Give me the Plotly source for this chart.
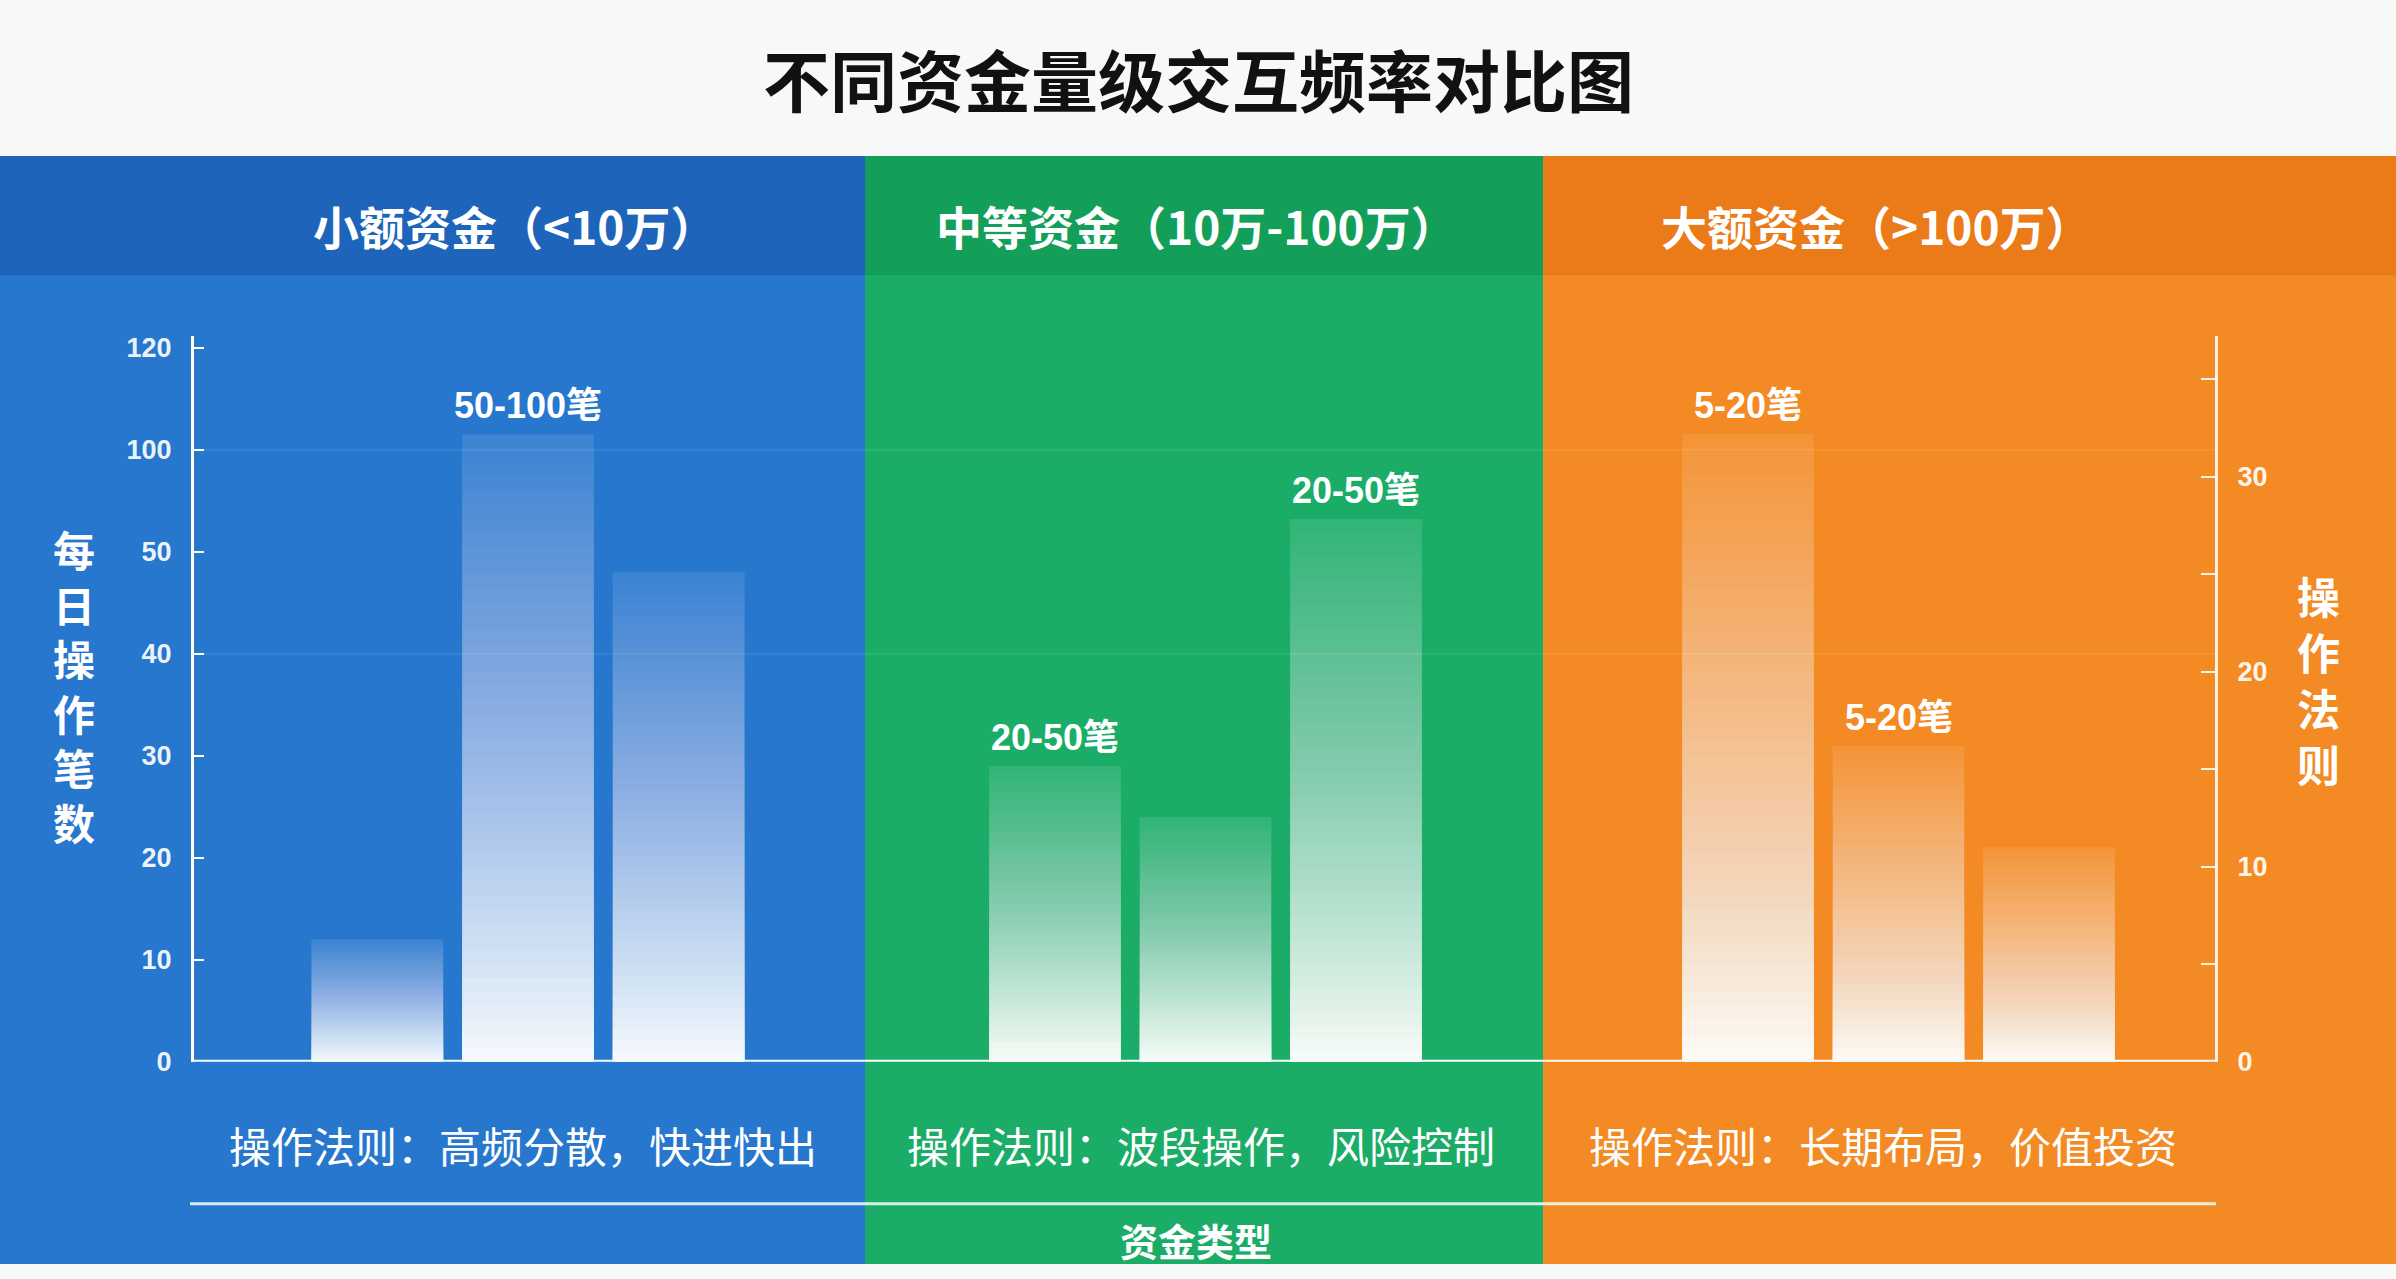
import numpy as np
import plotly.graph_objects as go

# ---------------- data ----------------
chart_title = "不同资金量级交互频率对比图"
group_titles = ["小额资金（<10万）", "中等资金（10万-100万）", "大额资金（>100万）"]
group_rules = ["操作法则：高频分散，快进快出", "操作法则：波段操作，风险控制", "操作法则：长期布局，价值投资"]
bar_names = ["指标一", "指标二", "指标三"]

small_vals = [12, 103, 48]      # 左轴：每日操作笔数
medium_vals = [29, 24, 66]      # 左轴：每日操作笔数
large_vals = [32.2, 16.2, 11]   # 右轴：操作法则

small_labels = ["", "50-100笔", ""]
medium_labels = ["20-50笔", "", "20-50笔"]
large_labels = ["5-20笔", "5-20笔", ""]

left_tick_vals = [0, 10, 20, 30, 40, 50, 100, 120]
left_tick_text = ["0", "10", "20", "30", "40", "50", "100", "120"]
right_tick_vals = [0, 10, 20, 30]

left_title = "每日操作笔数"
right_title = "操作法则"
x_title = "资金类型"

# ---------------- style ----------------
W, H = 2396, 1279
def px(x):
    return x / W
def py(y):
    return 1 - y / H

CJK = "Noto Sans CJK SC"
NUM = "Liberation Sans, Noto Sans CJK SC"

panel_x = [(0, 865), (865, 1543), (1543, 2396)]
panel_body = ["#2777ce", "#1bad67", "#f38a24"]
panel_head = ["#1d64ba", "#139f59", "#eb7a18"]

x_domains = [(302, 754), (979.75, 1431.25), (1672.75, 2124.25)]
axis_left_x, axis_right_x = 192, 2216
plot_bottom, plot_top = 1074, 338

# piecewise left axis (axis break scale): value -> tick index position
left_pos = list(range(len(left_tick_vals)))
def left_scale(v):
    return float(np.interp(v, left_tick_vals, left_pos))

left_range = [0, 7.12]
right_range = [0, 37.25]

fig = go.Figure()

groups = [
    (small_vals, small_labels, "x", "y", [left_scale(v) for v in small_vals]),
    (medium_vals, medium_labels, "x2", "y", [left_scale(v) for v in medium_vals]),
    (large_vals, large_labels, "x3", "y2", list(large_vals)),
]

# gradient bars built from overlaid layers
N = 45
w_top, w_bot = 0.10, 0.96
W_acc = [w_top + (w_bot - w_top) * k / (N - 1) for k in range(N)]
alphas = [W_acc[0]] + [1 - (1 - W_acc[k]) / (1 - W_acc[k - 1]) for k in range(1, N)]

annotations = []
for gi, (vals, labels, xa, ya, heights) in enumerate(groups):
    for k in range(N):
        frac = (N - k) / N
        fig.add_trace(go.Bar(
            x=bar_names, y=[h * frac for h in heights],
            xaxis=xa, yaxis=ya,
            marker=dict(color="rgba(255,255,255,%.4f)" % alphas[k], line=dict(width=0)),
            hoverinfo="skip", showlegend=False,
        ))
    for name, h, lab in zip(bar_names, heights, labels):
        if lab:
            annotations.append(dict(
                x=name, y=h, xref=xa, yref=ya, text=lab, showarrow=False,
                xanchor="center", yanchor="bottom", yshift=6,
                font=dict(family=NUM, size=36, color="white", weight="bold"),
            ))

shapes = []
for (x0, x1), body, head in zip(panel_x, panel_body, panel_head):
    shapes.append(dict(type="rect", xref="paper", yref="paper", x0=px(x0), x1=px(x1),
                       y0=0, y1=py(156), fillcolor=body, line=dict(width=0), layer="below"))
    shapes.append(dict(type="rect", xref="paper", yref="paper", x0=px(x0), x1=px(x1),
                       y0=py(277), y1=py(156), fillcolor=head, line=dict(width=0), layer="below"))

# faint grid lines
for gv in [100, 40]:
    shapes.append(dict(type="line", xref="paper", yref="y", x0=px(axis_left_x), x1=px(axis_right_x),
                       y0=left_scale(gv), y1=left_scale(gv),
                       line=dict(color="rgba(255,255,255,0.08)", width=2), layer="below"))

# baseline
shapes.append(dict(type="line", xref="paper", yref="y", x0=px(axis_left_x), x1=px(axis_right_x),
                   y0=0, y1=0, line=dict(color="#f4fbff", width=4)))
# lower separator line
shapes.append(dict(type="line", xref="paper", yref="paper", x0=px(190), x1=px(axis_right_x),
                   y0=py(1218), y1=py(1218), line=dict(color="rgba(235,250,245,0.9)", width=3)))

def ann(x, y, text, font, **kw):
    d = dict(x=px(x), y=py(y), xref="paper", yref="paper", text=text, showarrow=False,
             xanchor="center", yanchor="middle", font=font)
    d.update(kw)
    return d

# headers and rules
header_x = [514, 1196, 1876]
rule_x = [523, 1201, 1883]
for t, hx in zip(group_titles, header_x):
    annotations.append(ann(hx, 226, t, dict(family=CJK, size=46, color="white", weight="bold")))
for t, rx in zip(group_rules, rule_x):
    annotations.append(ann(rx, 1158, t, dict(family=CJK, size=42, color="white")))

# title
annotations.append(ann(1198, 77, chart_title, dict(family=CJK, size=67, color="#111111", weight="bold")))

# vertical axis titles (stacked characters)
annotations.append(ann(74, 692, "<br>".join(left_title),
                       dict(family=CJK, size=42, color="white", weight="bold")))
annotations.append(ann(2318, 686, "<br>".join(right_title),
                       dict(family=CJK, size=43, color="white", weight="bold")))

# x title (at the bottom edge)
annotations.append(ann(1196, 1254, x_title, dict(family=CJK, size=38, color="white", weight="bold")))

tickfont = dict(family=NUM, size=27, color="rgba(255,255,255,0.93)", weight="bold")

xa_common = dict(type="category", categoryorder="array", categoryarray=bar_names,
                 visible=False, fixedrange=True)

fig.update_layout(
    width=W, height=H, autosize=False,
    margin=dict(l=0, r=0, t=0, b=0, pad=0),
    paper_bgcolor="#f7f8f8", plot_bgcolor="rgba(0,0,0,0)",
    barmode="overlay", bargap=0.124,
    showlegend=False,
    xaxis=dict(domain=[px(x_domains[0][0]), px(x_domains[0][1])], anchor="y", **xa_common),
    xaxis2=dict(domain=[px(x_domains[1][0]), px(x_domains[1][1])], anchor="y", **xa_common),
    xaxis3=dict(domain=[px(x_domains[2][0]), px(x_domains[2][1])], anchor="y2", **xa_common),
    yaxis=dict(domain=[py(plot_bottom), py(plot_top)], anchor="free", position=px(axis_left_x),
               range=left_range, tickmode="array", tickvals=left_pos, ticktext=left_tick_text,
               ticks="inside", ticklen=10, tickwidth=2, tickcolor="white",
               showline=True, linecolor="white", linewidth=3,
               showgrid=False, zeroline=False, tickfont=tickfont, ticklabelstandoff=14,
               fixedrange=True),
    yaxis2=dict(overlaying="y", side="right", anchor="free", position=px(axis_right_x),
                range=right_range, tickmode="array", tickvals=right_tick_vals,
                ticks="inside", ticklen=14, tickwidth=2, tickcolor="#fff3e2",
                minor=dict(dtick=5, tick0=0, ticks="inside", ticklen=14, tickwidth=2, tickcolor="#fff3e2"),
                showline=True, linecolor="#fff3e2", linewidth=3,
                showgrid=False, zeroline=False, tickfont=tickfont, ticklabelstandoff=14,
                fixedrange=True),
    shapes=shapes,
    annotations=annotations,
)

fig.write_html("out.html", config={"displayModeBar": False})
